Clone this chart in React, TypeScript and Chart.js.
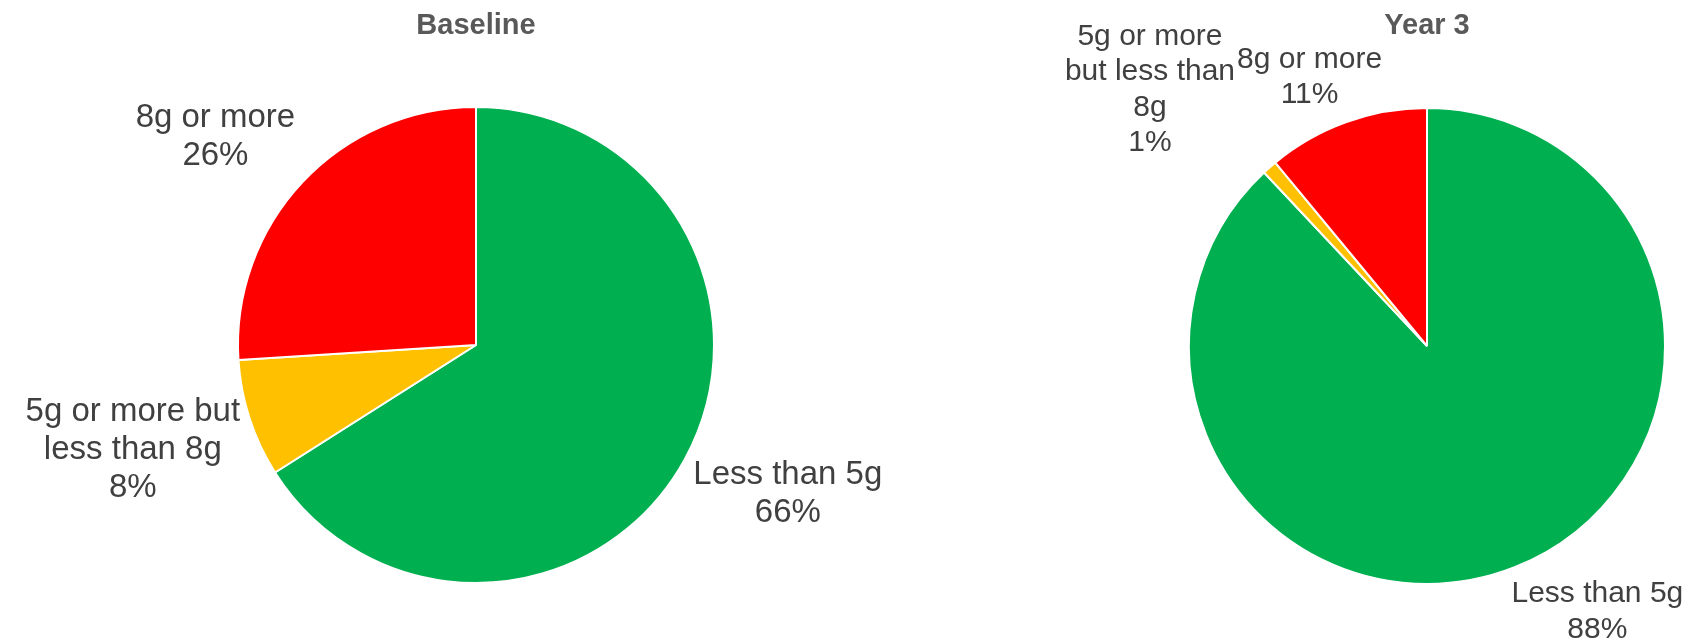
import React, { useEffect, useRef } from "react";
import { Chart, registerables } from "chart.js";

Chart.register(...registerables);

// ---- data ----
const categories = ["Less than 5g", "5g or more but less than 8g", "8g or more"];
const baselineValues = [66, 8, 26];
const year3Values = [88, 1, 11];
const sliceColors = ["#00B050", "#FFC000", "#FF0000"];
const titles = ["Baseline", "Year 3"];

const FONT = "'Liberation Sans', Arial, sans-serif";

function wrapText(ctx: CanvasRenderingContext2D, text: string, maxWidth: number): string[] {
  const words = text.split(" ");
  const lines: string[] = [];
  let cur = "";
  for (const w of words) {
    const test = cur ? cur + " " + w : w;
    if (cur && ctx.measureText(test).width > maxWidth) {
      lines.push(cur);
      cur = w;
    } else {
      cur = test;
    }
  }
  if (cur) lines.push(cur);
  return lines;
}

const outsideLabels = {
  id: "outsideLabels",
  afterDatasetsDraw(chart: any, _args: any, opts: any) {
    const ctx: CanvasRenderingContext2D = chart.ctx;
    const meta = chart.getDatasetMeta(0);
    const labels = chart.data.labels as string[];
    const data = chart.data.datasets[0].data as number[];
    ctx.save();
    ctx.font = `${opts.size}px ${FONT}`;
    ctx.fillStyle = opts.color;
    ctx.textAlign = "center";
    ctx.textBaseline = "middle";
    const cl = (v: number) => Math.max(-1, Math.min(1, v));
    const lh = opts.size * opts.lineHeight;
    const boxes = meta.data.map((arc: any, i: number) => {
      const p = arc.getProps(["x", "y", "startAngle", "endAngle", "outerRadius"], true);
      const mid = (p.startAngle + p.endAngle) / 2;
      const ux = Math.cos(mid);
      const uy = Math.sin(mid);
      const lines = wrapText(ctx, labels[i], opts.maxWidth).concat([`${data[i]}%`]);
      const w = Math.max(...lines.map((l) => ctx.measureText(l).width));
      const h = lines.length * lh;
      const r = p.outerRadius + opts.gap;
      const cx = p.x + r * ux + (cl(ux * 2.5) * w) / 2;
      const cy = p.y + r * uy + (cl(uy * 1.6) * h) / 2;
      return { cx, cy, w, h, lines };
    });
    // push overlapping labels apart horizontally
    for (let it = 0; it < 6; it++) {
      for (let a = 0; a < boxes.length; a++) {
        for (let b = a + 1; b < boxes.length; b++) {
          const A = boxes[a];
          const B = boxes[b];
          const ox =
            Math.min(A.cx + A.w / 2, B.cx + B.w / 2) - Math.max(A.cx - A.w / 2, B.cx - B.w / 2);
          const oy =
            Math.min(A.cy + A.h / 2, B.cy + B.h / 2) - Math.max(A.cy - A.h / 2, B.cy - B.h / 2);
          if (ox > -2 && oy > 0) {
            const s = (ox + 2) / 2;
            if (A.cx < B.cx) {
              A.cx -= s;
              B.cx += s;
            } else {
              A.cx += s;
              B.cx -= s;
            }
          }
        }
      }
    }
    boxes.forEach((bx: any) => {
      bx.lines.forEach((l: string, j: number) =>
        ctx.fillText(l, bx.cx, bx.cy - bx.h / 2 + lh * (j + 0.5))
      );
    });
    ctx.restore();
  },
};

type PieProps = {
  title: string;
  values: number[];
  padding: { left: number; right: number; top: number; bottom: number };
  titleBottom: number;
  labelSize: number;
  labelLineHeight: number;
  wrapWidth: number;
};

function PieChart(props: PieProps) {
  const ref = useRef<HTMLCanvasElement | null>(null);
  useEffect(() => {
    if (!ref.current) return;
    const chart = new Chart(ref.current, {
      type: "pie",
      data: {
        labels: categories,
        datasets: [
          {
            data: props.values,
            backgroundColor: sliceColors,
            borderColor: "#FFFFFF",
            borderWidth: 2,
          },
        ],
      },
      plugins: [outsideLabels as any],
      options: {
        responsive: false,
        animation: false,
        layout: { padding: props.padding },
        plugins: {
          legend: { display: false },
          tooltip: { enabled: false },
          title: {
            display: true,
            text: props.title,
            color: "#595959",
            font: { family: FONT, size: 29, weight: "bold" },
            padding: { top: 9, bottom: props.titleBottom },
          },
          outsideLabels: {
            size: props.labelSize,
            lineHeight: props.labelLineHeight,
            color: "#404040",
            maxWidth: props.wrapWidth,
            gap: 10,
          },
        } as any,
      },
    });
    return () => chart.destroy();
  }, []);
  return (
    <canvas
      ref={ref}
      width={1699}
      height={640}
      style={{ position: "absolute", left: 0, top: 0 }}
    />
  );
}

export default function App() {
  return (
    <div
      style={{
        position: "absolute",
        left: 0,
        top: 0,
        width: 1699,
        height: 640,
        background: "#FFFFFF",
        overflow: "hidden",
      }}
    >
      <PieChart
        title={titles[0]}
        values={baselineValues}
        padding={{ left: 237, right: 984, top: 0, bottom: 56 }}
        titleBottom={62.2}
        labelSize={33}
        labelLineHeight={1.16}
        wrapWidth={230}
      />
      <PieChart
        title={titles[1]}
        values={year3Values}
        padding={{ left: 1188, right: 33, top: 0, bottom: 55 }}
        titleBottom={63.2}
        labelSize={30}
        labelLineHeight={1.17}
        wrapWidth={175}
      />
    </div>
  );
}
